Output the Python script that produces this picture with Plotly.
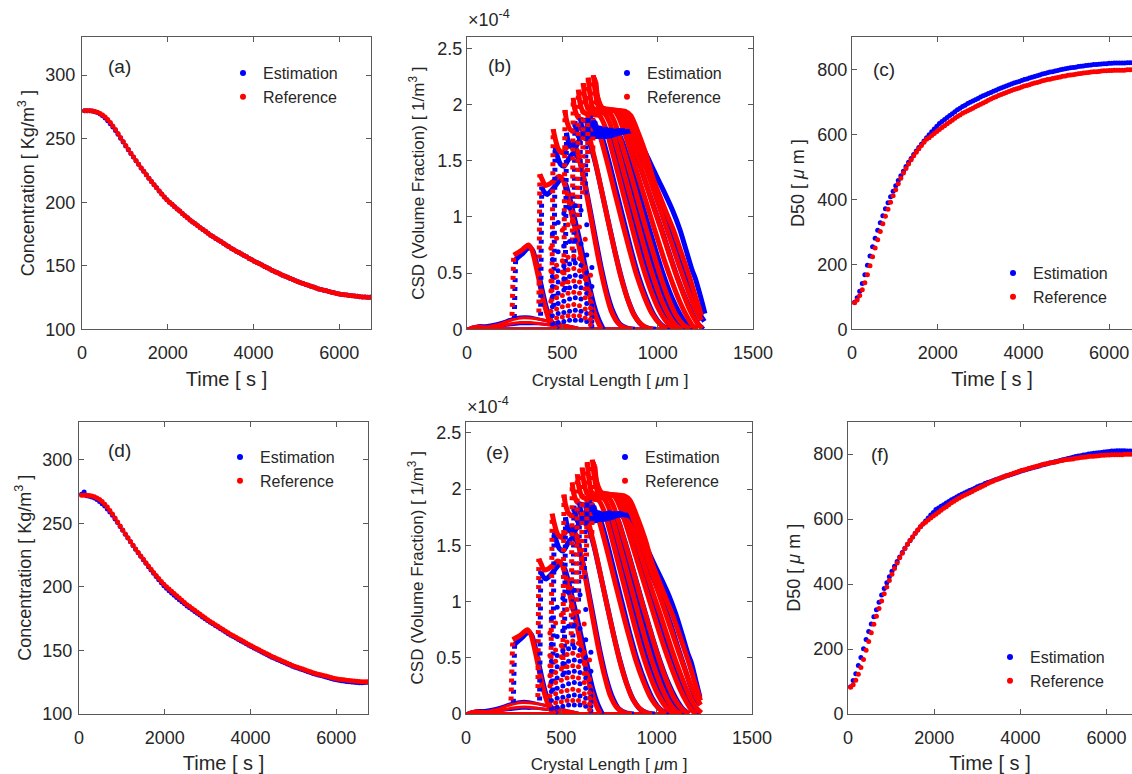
import plotly.graph_objects as go

FONT = "Liberation Sans, Arial, sans-serif"
TXT = "#262626"
AXC = "#595959"
BLUE = "#0000FF"
RED = "#FF0000"
W, H = 1132, 774

# ---------------- Concentration (a), (d) ----------------
conc_ref = [272.0, 272.0, 272.0, 271.8, 271.4, 270.8, 269.9, 268.6, 267.0, 265.0,
            262.7, 260.0, 257.2, 254.1, 251.0, 247.8, 244.7, 241.6, 238.6, 235.6,
            232.7, 229.8, 227.0, 224.3, 221.6, 218.9, 216.3, 213.8, 211.3, 208.9,
            206.5, 204.2, 202.0, 200.0, 198.3, 196.5, 194.7, 193.0, 191.2, 189.4,
            187.7, 186.0, 184.5, 183.0, 181.5, 180.0, 178.6, 177.1, 175.6, 174.1,
            172.8, 171.5, 170.2, 169.0, 167.7, 166.4, 165.1, 163.8, 162.6, 161.5,
            160.4, 159.2, 158.1, 157.0, 155.8, 154.7, 153.6, 152.5, 151.5, 150.5,
            149.4, 148.4, 147.4, 146.3, 145.3, 144.4, 143.5, 142.6, 141.7, 140.9,
            140.0, 139.1, 138.2, 137.4, 136.7, 136.0, 135.3, 134.6, 133.9, 133.2,
            132.5, 131.8, 131.3, 130.8, 130.3, 129.8, 129.2, 128.7, 128.2, 127.7,
            127.4, 127.2, 126.9, 126.6, 126.4, 126.2, 126.0, 125.7, 125.5, 125.4,
            125.3, 125.3]
conc_est_a = [272.0, 272.0, 271.9, 271.7, 271.2, 270.5, 269.5, 268.0, 266.2, 264.1,
              261.8, 259.2, 256.4, 253.4, 250.4, 247.3, 244.3, 241.3, 238.4, 235.5,
              232.6, 229.8, 227.0, 224.3, 221.6, 218.9, 216.3, 213.8, 211.3, 208.9,
              206.5, 204.2, 202.0, 200.0, 198.3, 196.5, 194.7, 193.0, 191.2, 189.4,
              187.7, 186.0, 184.5, 183.0, 181.5, 180.0, 178.6, 177.1, 175.6, 174.1,
              172.8, 171.5, 170.2, 169.0, 167.7, 166.4, 165.1, 163.8, 162.6, 161.5,
              160.4, 159.2, 158.1, 157.0, 155.8, 154.7, 153.6, 152.5, 151.5, 150.5,
              149.4, 148.4, 147.4, 146.3, 145.3, 144.4, 143.5, 142.6, 141.7, 140.9,
              140.0, 139.1, 138.2, 137.4, 136.7, 136.0, 135.3, 134.6, 133.9, 133.2,
              132.5, 131.8, 131.3, 130.8, 130.3, 129.8, 129.2, 128.7, 128.2, 127.7,
              127.4, 127.2, 126.9, 126.6, 126.4, 126.2, 126.0, 125.7, 125.5, 125.4,
              125.3, 125.3]
conc_est_d = [272.8, 274.6, 271.6, 271.2, 270.6, 269.8, 268.6, 267.0, 265.4, 263.5,
              261.2, 258.8, 256.3, 253.4, 250.5, 247.4, 244.4, 241.3, 238.3, 235.4,
              232.5, 229.6, 226.7, 224.0, 221.2, 218.5, 215.8, 213.2, 210.6, 208.1,
              205.6, 203.2, 200.9, 198.8, 197.0, 195.1, 193.3, 191.6, 189.9, 188.2,
              186.6, 185.0, 183.6, 182.1, 180.6, 179.2, 177.8, 176.3, 174.9, 173.5,
              172.2, 170.9, 169.6, 168.4, 167.1, 165.8, 164.5, 163.2, 162.0, 160.9,
              159.8, 158.6, 157.5, 156.4, 155.2, 154.1, 153.0, 151.9, 150.9, 149.9,
              148.8, 147.8, 146.8, 145.7, 144.7, 143.8, 142.9, 142.0, 141.1, 140.3,
              139.4, 138.5, 137.6, 136.8, 136.1, 135.4, 134.7, 134.0, 133.3, 132.6,
              131.9, 131.2, 130.7, 130.2, 129.6, 129.1, 128.5, 127.9, 127.4, 126.9,
              126.5, 126.2, 125.9, 125.6, 125.3, 125.1, 124.9, 124.7, 124.6, 124.6,
              124.7, 124.9]

# ---------------- D50 (c), (f) ----------------
d50_ref = [82, 90, 104, 122, 143, 168, 196, 223, 250, 276,
           301, 325, 348, 370, 391, 411, 430, 448, 465, 481,
           495, 509, 522, 534, 545, 556, 566, 576, 585, 590,
           597, 603, 609, 615, 621, 627, 633, 638, 644, 650,
           655, 660, 665, 669, 673, 677, 681, 685, 689, 693,
           697, 701, 705, 709, 713, 716, 720, 723, 726, 729,
           732, 735, 738, 741, 743, 746, 749, 751, 753, 756,
           758, 760, 762, 765, 767, 769, 770, 772, 774, 775,
           777, 779, 780, 782, 783, 784, 785, 787, 788, 789,
           790, 791, 792, 793, 793, 794, 795, 796, 796, 797,
           797, 798, 798, 798, 798, 798, 799, 799, 799, 799,
           798, 798]
d50_est_c = [83, 97, 117, 141, 168, 197, 226, 254, 280, 305,
             328, 350, 371, 390, 408, 425, 442, 458, 473, 487,
             501, 514, 526, 538, 549, 560, 570, 580, 590, 599,
             608, 617, 625, 634, 640, 646, 652, 658, 664, 670,
             676, 681, 686, 690, 695, 699, 703, 707, 711, 715,
             719, 722, 726, 729, 733, 736, 740, 743, 746, 749,
             752, 755, 758, 761, 763, 766, 769, 771, 774, 776,
             778, 781, 783, 786, 788, 790, 792, 793, 795, 797,
             799, 801, 802, 804, 805, 806, 807, 809, 810, 811,
             812, 813, 814, 815, 815, 816, 817, 818, 818, 819,
             819, 820, 820, 820, 820, 820, 821, 821, 821, 821,
             821, 820]
d50_est_f = [84, 103, 124, 149, 174, 201, 229, 254, 277, 299,
             321, 344, 366, 386, 404, 422, 439, 455, 469, 483,
             497, 510, 522, 534, 545, 556, 566, 576, 585, 594,
             603, 612, 620, 629, 634, 639, 644, 649, 654, 659,
             663, 668, 672, 676, 680, 684, 688, 691, 695, 699,
             702, 705, 709, 712, 715, 718, 721, 723, 726, 729,
             732, 735, 737, 739, 742, 745, 748, 750, 752, 755,
             757, 759, 761, 763, 766, 768, 770, 772, 774, 776,
             778, 780, 782, 784, 786, 788, 790, 792, 794, 795,
             797, 798, 800, 801, 802, 803, 804, 805, 806, 807,
             808, 809, 809, 810, 810, 810, 810, 809, 809, 809,
             809, 808]

# ---------------- CSD (b), (e) : crystal length [um], CSD [x1e-4] ----------------
ref_col_L0 = [236, 377, 445, 508, 552, 580, 606, 632, 660]
ref_col_v0 = [0.12, 0.15, 0.25, 0.40, 0.70, 1.00, 1.20, 1.40, 1.60]
ref_col_L1 = [245, 382, 452, 514, 557, 584, 610, 636, 663]
ref_col_v1 = [0.66, 1.38, 1.78, 1.95, 2.06, 2.13, 2.19, 2.24, 2.26]
est_col_L0 = [248, 386, 455, 515, 560, 590, 620]
est_col_v0 = [0.10, 0.12, 0.20, 0.35, 0.60, 1.00, 1.20]
est_col_L1 = [255, 392, 462, 522, 566, 596, 626]
est_col_v1 = [0.62, 1.27, 1.62, 1.75, 1.85, 1.88, 1.88]

ref_curve_L = [
    [245, 265, 285, 305, 322, 340, 357, 375, 392, 409, 425, 440, 455, 470],
    [382, 395, 410, 430, 455, 480, 495, 510, 530, 555, 580, 605, 630, 655, 680, 705],
    [452, 462, 480, 500, 525, 550, 575, 605, 635, 665, 695, 725, 755, 790, 830, 870],
    [514, 522, 540, 565, 600, 630, 665, 700, 735, 770, 805, 840, 875, 910, 945, 976],
    [557, 565, 585, 615, 660, 690, 730, 770, 810, 850, 890, 930, 970, 1010, 1049],
    [584, 592, 610, 645, 695, 725, 765, 805, 845, 885, 925, 965, 1005, 1045, 1075, 1101],
    [610, 618, 635, 670, 720, 750, 790, 830, 870, 910, 950, 990, 1030, 1070, 1105, 1133],
    [636, 644, 660, 700, 750, 775, 815, 855, 895, 935, 975, 1015, 1055, 1095, 1135, 1170],
    [663, 672, 690, 730, 775, 800, 840, 880, 920, 960, 1000, 1040, 1080, 1120, 1155, 1185, 1210],
    [668, 678, 700, 750, 795, 820, 860, 900, 940, 980, 1020, 1060, 1100, 1140, 1175, 1210, 1235],
    [672, 682, 705, 760, 810, 840, 880, 920, 960, 1000, 1040, 1080, 1120, 1160, 1195, 1230],
    [676, 686, 710, 770, 830, 860, 900, 940, 976, 1010, 1045, 1081, 1110, 1140, 1170, 1200, 1230],
]
ref_curve_v = [
    [0.66, 0.68, 0.70, 0.73, 0.75, 0.71, 0.60, 0.46, 0.32, 0.20, 0.11, 0.05, 0.02, 0.0],
    [1.38, 1.33, 1.28, 1.29, 1.32, 1.36, 1.35, 1.30, 1.17, 0.98, 0.80, 0.60, 0.40, 0.22, 0.09, 0.0],
    [1.78, 1.70, 1.60, 1.57, 1.62, 1.66, 1.60, 1.40, 1.13, 0.85, 0.58, 0.35, 0.17, 0.06, 0.01, 0.0],
    [1.95, 1.86, 1.78, 1.76, 1.80, 1.76, 1.55, 1.28, 1.00, 0.73, 0.48, 0.28, 0.13, 0.05, 0.01, 0.0],
    [2.06, 1.96, 1.88, 1.86, 1.86, 1.76, 1.52, 1.25, 0.98, 0.72, 0.48, 0.29, 0.14, 0.05, 0.0],
    [2.13, 2.02, 1.93, 1.91, 1.90, 1.80, 1.56, 1.30, 1.04, 0.78, 0.54, 0.34, 0.18, 0.07, 0.02, 0.0],
    [2.19, 2.06, 1.96, 1.93, 1.92, 1.83, 1.60, 1.35, 1.10, 0.85, 0.61, 0.40, 0.22, 0.09, 0.02, 0.0],
    [2.24, 2.10, 1.97, 1.94, 1.92, 1.84, 1.63, 1.40, 1.16, 0.92, 0.69, 0.47, 0.28, 0.13, 0.04, 0.0],
    [2.26, 2.12, 1.98, 1.95, 1.94, 1.87, 1.68, 1.46, 1.24, 1.02, 0.80, 0.59, 0.40, 0.23, 0.11, 0.03, 0.0],
    [2.24, 2.10, 1.97, 1.95, 1.94, 1.88, 1.70, 1.50, 1.29, 1.08, 0.88, 0.67, 0.47, 0.29, 0.15, 0.05, 0.01],
    [2.22, 2.08, 1.97, 1.95, 1.94, 1.89, 1.72, 1.53, 1.33, 1.13, 0.93, 0.73, 0.53, 0.34, 0.19, 0.08],
    [2.20, 2.06, 1.97, 1.95, 1.94, 1.90, 1.74, 1.55, 1.34, 1.19, 1.04, 0.89, 0.75, 0.60, 0.45, 0.28, 0.12],
]
est_curve_L = [
    [255, 275, 295, 312, 328, 345, 362, 380, 398, 415, 432, 448, 463, 478],
    [392, 405, 420, 440, 465, 490, 505, 520, 540, 565, 590, 615, 640, 665, 690, 715],
    [462, 472, 490, 510, 535, 560, 585, 615, 645, 675, 705, 735, 765, 800, 840, 880],
    [522, 530, 548, 572, 600, 635, 670, 705, 740, 775, 810, 845, 880, 915, 950, 990],
    [566, 574, 592, 620, 655, 700, 740, 780, 820, 860, 900, 940, 980, 1020, 1065],
    [596, 604, 622, 655, 695, 740, 780, 820, 860, 900, 940, 980, 1020, 1060, 1090, 1118],
    [626, 634, 652, 685, 725, 770, 810, 850, 890, 930, 970, 1010, 1050, 1090, 1120, 1150],
    [646, 654, 672, 705, 750, 795, 835, 875, 915, 955, 995, 1035, 1075, 1115, 1150, 1185],
    [656, 664, 684, 720, 770, 830, 870, 910, 950, 990, 1030, 1070, 1110, 1150, 1185, 1215, 1240],
    [664, 672, 695, 735, 790, 850, 890, 930, 975, 1015, 1055, 1090, 1125, 1160, 1190, 1220, 1245],
    [670, 680, 705, 750, 810, 870, 910, 950, 1000, 1040, 1080, 1116, 1150, 1180, 1198, 1225, 1248],
]
est_curve_v = [
    [0.62, 0.65, 0.68, 0.71, 0.73, 0.70, 0.60, 0.46, 0.32, 0.20, 0.11, 0.05, 0.02, 0.0],
    [1.27, 1.22, 1.20, 1.23, 1.28, 1.33, 1.33, 1.28, 1.16, 0.98, 0.80, 0.60, 0.40, 0.22, 0.09, 0.0],
    [1.62, 1.55, 1.47, 1.45, 1.52, 1.57, 1.52, 1.33, 1.07, 0.80, 0.54, 0.32, 0.16, 0.05, 0.01, 0.0],
    [1.75, 1.68, 1.62, 1.63, 1.71, 1.68, 1.50, 1.24, 0.97, 0.70, 0.46, 0.26, 0.12, 0.04, 0.01, 0.0],
    [1.85, 1.76, 1.70, 1.73, 1.80, 1.74, 1.52, 1.25, 0.98, 0.71, 0.47, 0.28, 0.13, 0.04, 0.0],
    [1.88, 1.78, 1.71, 1.73, 1.79, 1.74, 1.54, 1.29, 1.03, 0.77, 0.53, 0.33, 0.17, 0.07, 0.02, 0.0],
    [1.88, 1.79, 1.72, 1.72, 1.78, 1.74, 1.56, 1.33, 1.08, 0.83, 0.59, 0.38, 0.21, 0.09, 0.03, 0.0],
    [1.90, 1.80, 1.72, 1.72, 1.77, 1.74, 1.57, 1.36, 1.13, 0.90, 0.67, 0.46, 0.28, 0.14, 0.05, 0.0],
    [1.88, 1.79, 1.72, 1.72, 1.76, 1.76, 1.62, 1.44, 1.24, 1.04, 0.84, 0.63, 0.43, 0.26, 0.13, 0.04, 0.0],
    [1.86, 1.78, 1.72, 1.72, 1.76, 1.76, 1.64, 1.48, 1.30, 1.13, 0.96, 0.79, 0.60, 0.42, 0.26, 0.14, 0.07],
    [1.85, 1.77, 1.72, 1.72, 1.75, 1.76, 1.66, 1.52, 1.34, 1.20, 1.05, 0.89, 0.70, 0.53, 0.45, 0.29, 0.14],
]
# last estimation profiles of panel (e)
est_e_tail_L = [
    [646, 654, 672, 705, 750, 790, 825, 862, 900, 940, 980, 1020, 1060, 1100, 1135, 1170],
    [656, 664, 684, 720, 770, 820, 858, 897, 936, 975, 1015, 1055, 1095, 1135, 1170, 1200, 1225],
    [664, 672, 695, 735, 790, 840, 878, 916, 960, 1000, 1040, 1075, 1110, 1145, 1175, 1205, 1228],
    [670, 680, 705, 750, 810, 858, 896, 936, 985, 1025, 1065, 1100, 1135, 1165, 1183, 1205, 1227],
]
est_e_tail_v = [
    [1.90, 1.80, 1.73, 1.74, 1.79, 1.75, 1.58, 1.37, 1.14, 0.90, 0.67, 0.46, 0.28, 0.14, 0.05, 0.0],
    [1.88, 1.80, 1.73, 1.74, 1.78, 1.76, 1.62, 1.44, 1.24, 1.04, 0.84, 0.63, 0.43, 0.26, 0.13, 0.04, 0.0],
    [1.86, 1.79, 1.73, 1.74, 1.78, 1.77, 1.64, 1.48, 1.30, 1.13, 0.96, 0.79, 0.60, 0.42, 0.26, 0.14, 0.08],
    [1.85, 1.78, 1.73, 1.74, 1.77, 1.76, 1.66, 1.52, 1.34, 1.20, 1.05, 0.89, 0.70, 0.53, 0.45, 0.30, 0.15],
]
ref_row_L = [440, 470, 500, 530, 560, 590, 620, 648]
ref_row_v = [
    [0.08, 0.10, 0.11, 0.12, 0.12, 0.12, 0.10, 0.04],
    [0.16, 0.18, 0.20, 0.21, 0.22, 0.21, 0.18, 0.09],
    [0.25, 0.28, 0.30, 0.32, 0.33, 0.32, 0.28, 0.14],
    [0.34, 0.37, 0.40, 0.42, 0.43, 0.42, 0.36, 0.19],
    [0.43, 0.47, 0.51, 0.53, 0.54, 0.52, 0.45, 0.25],
    [0.52, 0.57, 0.61, 0.64, 0.65, 0.63, 0.55, 0.31],
    [0.72, 0.81, 0.88, 0.93, 0.95, 0.91, 0.80, 0.48],
]
est_row_L = [448, 478, 508, 538, 568, 598, 628, 655]
est_row_v = [
    [0.05, 0.06, 0.07, 0.08, 0.08, 0.08, 0.07, 0.03],
    [0.12, 0.14, 0.15, 0.16, 0.17, 0.16, 0.14, 0.07],
    [0.20, 0.23, 0.25, 0.27, 0.28, 0.27, 0.23, 0.11],
    [0.29, 0.32, 0.35, 0.37, 0.38, 0.37, 0.32, 0.16],
    [0.38, 0.42, 0.45, 0.47, 0.48, 0.47, 0.40, 0.21],
    [0.47, 0.52, 0.56, 0.58, 0.59, 0.57, 0.50, 0.27],
    [0.62, 0.69, 0.74, 0.78, 0.79, 0.76, 0.66, 0.38],
    [0.85, 0.95, 1.03, 1.08, 1.10, 1.06, 0.93, 0.55],
]
hump_L = [0, 30, 60, 90, 130, 180, 230, 280, 330, 380, 430, 480, 530, 580, 620]
hump_ref_v = [
    [0.0, 0.01, 0.02, 0.02, 0.03, 0.05, 0.08, 0.10, 0.10, 0.09, 0.07, 0.05, 0.03, 0.01, 0.0],
    [0.0, 0.02, 0.03, 0.02, 0.02, 0.03, 0.05, 0.06, 0.06, 0.05, 0.04, 0.03, 0.02, 0.01, 0.0],
]
hump_est_v = [
    [0.0, 0.01, 0.03, 0.03, 0.04, 0.06, 0.09, 0.11, 0.11, 0.09, 0.07, 0.05, 0.03, 0.01, 0.0],
    [0.0, 0.02, 0.03, 0.03, 0.02, 0.03, 0.04, 0.05, 0.05, 0.05, 0.04, 0.03, 0.02, 0.01, 0.0],
]
base_L = [0, 1110]
base_v = [0, 0]

time_s = [60 * (i + 1) for i in range(len(conc_ref))]

panel_px = {
    1: ((82, 371), (37, 329.3)),
    2: ((467, 753), (37, 329.3)),
    3: ((852, 1132), (37, 329.3)),
    4: ((79, 368), (421.5, 714)),
    5: ((466, 752), (421.5, 714)),
    6: ((848, 1132), (421.5, 714)),
}

fig = go.Figure()


def ax(n, kind):
    return kind + ("" if n == 1 else str(n))


def add(n, x, y, color, mode="markers", size=5, width=5, dash=None, shape="linear"):
    kw = dict(x=x, y=y, xaxis=ax(n, "x"), yaxis=ax(n, "y"), showlegend=False,
              hoverinfo="skip", mode=mode, cliponaxis=True)
    if mode == "markers":
        kw["marker"] = dict(color=color, size=size, line=dict(width=0))
    else:
        ln = dict(color=color, width=width, shape=shape)
        if shape == "spline":
            ln["smoothing"] = 0.7
        if dash:
            ln["dash"] = dash
        kw["line"] = ln
    fig.add_trace(go.Scatter(**kw))


def legend_entries(n):
    lg = "legend" if n == 1 else "legend%d" % n
    for name, col in (("Estimation", BLUE), ("Reference", RED)):
        fig.add_trace(go.Scatter(x=[None], y=[None], mode="markers", name=name,
                                 marker=dict(color=col, size=6),
                                 xaxis=ax(n, "x"), yaxis=ax(n, "y"),
                                 legend=lg, showlegend=True))


add(1, time_s, conc_est_a, BLUE)
add(1, time_s, conc_ref, RED)
add(4, time_s, conc_est_d, BLUE)
add(4, time_s, conc_ref, RED)
add(3, time_s, d50_est_c, BLUE)
add(3, time_s, d50_ref, RED)
add(6, time_s, d50_est_f, BLUE)
add(6, time_s, d50_ref, RED)


def csd_panel(n, est_L, est_v):
    add(n, base_L, base_v, BLUE, mode="lines", width=4)
    for v in hump_est_v:
        add(n, hump_L, v, BLUE, mode="lines", width=3, shape="spline")
    add(n, base_L, base_v, RED, mode="lines", width=4)
    for v in hump_ref_v:
        add(n, hump_L, v, RED, mode="lines", width=3, shape="spline")
    nmax = max(len(est_L), len(ref_curve_L))
    for k in range(nmax):
        if k < len(est_L):
            if k < len(est_col_L0):
                add(n, [est_col_L0[k], est_col_L1[k]], [est_col_v0[k], est_col_v1[k]],
                    BLUE, mode="lines", width=5, dash="4px,5px")
            add(n, est_L[k], est_v[k], BLUE, mode="lines", width=5, shape="spline")
        if k < len(ref_curve_L):
            if k < len(ref_col_L0):
                add(n, [ref_col_L0[k], ref_col_L1[k]], [ref_col_v0[k], ref_col_v1[k]],
                    RED, mode="lines", width=5, dash="4px,5px")
            add(n, ref_curve_L[k], ref_curve_v[k], RED, mode="lines", width=5, shape="spline")
    for v in est_row_v:
        add(n, est_row_L, v, BLUE, size=5)
    for v in ref_row_v:
        add(n, ref_row_L, v, RED, size=5)


csd_panel(2, est_curve_L, est_curve_v)
csd_panel(5, est_curve_L[:7] + est_e_tail_L, est_curve_v[:7] + est_e_tail_v)

for n in range(1, 7):
    legend_entries(n)

tickfont = dict(family=FONT, size=18, color=TXT)
layout = dict(width=W, height=H, margin=dict(l=0, r=0, t=0, b=0, autoexpand=False),
              autosize=False, paper_bgcolor="white", plot_bgcolor="white",
              font=dict(family=FONT, color=TXT))


def xdom(n):
    (x0, x1), _ = panel_px[n]
    return [x0 / W, x1 / W]


def ydom(n):
    _, (y0, y1) = panel_px[n]
    return [1 - y1 / H, 1 - y0 / H]


common = dict(showline=True, linecolor=AXC, linewidth=1, ticks="inside", ticklen=5,
              tickcolor=AXC, tickwidth=1, showgrid=False, zeroline=False,
              tickfont=tickfont, automargin=False)

time_ticks = [0, 2000, 4000, 6000]
xranges = {1: [0, 6740], 3: [0, 6534], 4: [0, 6740], 6: [0, 6590]}
for n in (1, 3, 4, 6):
    layout["xaxis" + ("" if n == 1 else str(n))] = dict(
        common, domain=xdom(n), anchor=ax(n, "y"), range=xranges[n], mirror="ticks",
        tickvals=time_ticks, ticktext=[str(v) for v in time_ticks], ticklabelstandoff=7,
        title=dict(text="Time [ s ]", font=dict(family=FONT, size=20, color=TXT), standoff=10))
for n in (2, 5):
    layout["xaxis" + str(n)] = dict(
        common, domain=xdom(n), anchor=ax(n, "y"), range=[0, 1500], mirror="ticks",
        tickvals=[0, 500, 1000, 1500], ticktext=["0", "500", "1000", "1500"], ticklabelstandoff=7,
        title=dict(text="Crystal Length [ <i>μ</i>m ]", font=dict(family=FONT, size=17, color=TXT),
                   standoff=12))
for n in (1, 4):
    layout["yaxis" + ("" if n == 1 else str(n))] = dict(
        common, domain=ydom(n), anchor=ax(n, "x"), range=[100, 330], mirror="ticks",
        tickvals=[100, 150, 200, 250, 300], ticktext=["100", "150", "200", "250", "300"],
        ticklabelstandoff=2,
        title=dict(text="Concentration [ Kg/m<sup>3</sup> ]",
                   font=dict(family=FONT, size=18, color=TXT), standoff=6))
for n in (2, 5):
    layout["yaxis" + str(n)] = dict(
        common, domain=ydom(n), anchor=ax(n, "x"), range=[0, 2.6], mirror="ticks",
        tickvals=[0, 0.5, 1, 1.5, 2, 2.5], ticktext=["0", "0.5", "1", "1.5", "2", "2.5"],
        title=dict(text="CSD (Volume Fraction) [ 1/m<sup>3</sup> ]",
                   font=dict(family=FONT, size=17, color=TXT), standoff=8))
for n in (3, 6):
    layout["yaxis" + str(n)] = dict(
        common, domain=ydom(n), anchor=ax(n, "x"), range=[0, 900], mirror=False,
        tickvals=[0, 200, 400, 600, 800], ticktext=["0", "200", "400", "600", "800"],
        title=dict(text="D50 [ <i>μ</i> m ]", font=dict(family=FONT, size=18, color=TXT),
                   standoff=8))

legend_pos = {1: (265, 73), 2: (649, 73), 3: (1035, 273),
              4: (262, 457), 5: (647, 457), 6: (1032, 657)}
for n, (tx, ty) in legend_pos.items():
    key = "legend" if n == 1 else "legend%d" % n
    layout[key] = dict(x=(tx - 42) / W, y=1 - (ty - 17) / H, xanchor="left", yanchor="top",
                       bgcolor="rgba(0,0,0,0)", borderwidth=0,
                       font=dict(family=FONT, size=16, color=TXT),
                       tracegroupgap=0, itemwidth=30)

ann = []
labels = {"(a)": (119.5, 66), "(b)": (499, 65), "(c)": (884, 69),
          "(d)": (119.5, 451), "(e)": (497, 452), "(f)": (880, 454)}
for t, (x, y) in labels.items():
    ann.append(dict(text=t, x=x / W, y=1 - y / H, xref="paper", yref="paper",
                    xanchor="center", yanchor="middle", showarrow=False,
                    font=dict(family=FONT, size=19, color=TXT)))
for (x, y) in ((466, 18), (465, 405)):
    ann.append(dict(text="×10<sup>-4</sup>", x=x / W, y=1 - y / H, xref="paper", yref="paper",
                    xanchor="left", yanchor="middle", showarrow=False,
                    font=dict(family=FONT, size=18, color=TXT)))
layout["annotations"] = ann

fig.update_layout(**layout)
fig.write_html("out.html")
